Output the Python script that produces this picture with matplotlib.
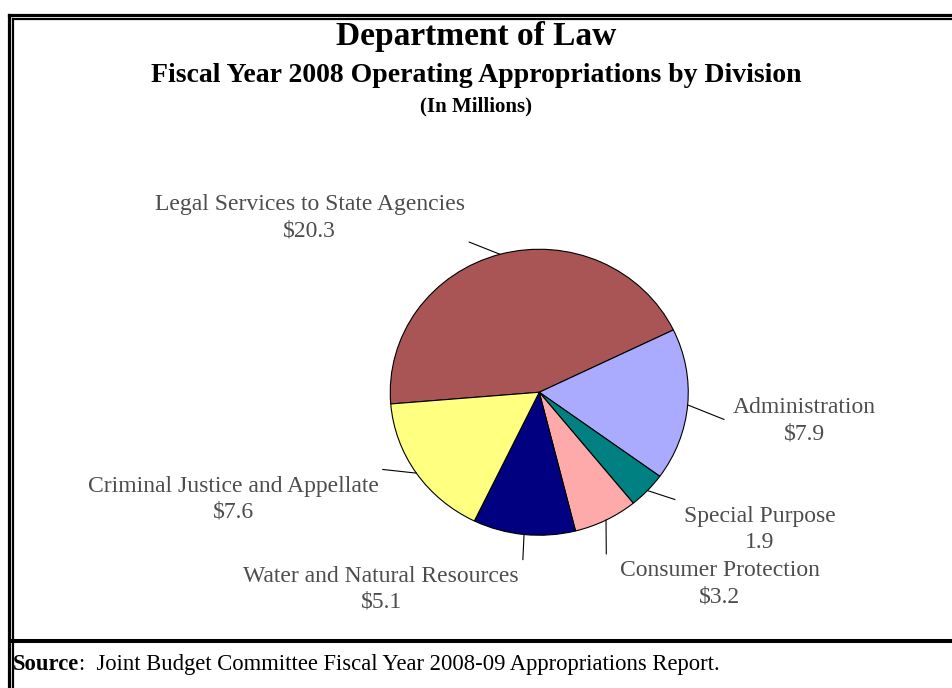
import matplotlib.pyplot as plt
from matplotlib.lines import Line2D
import numpy as np

# Department of Law, FY 2008 operating appropriations by division ($ millions)
divisions = ['Legal Services to State Agencies', 'Administration', 'Special Purpose',
             'Consumer Protection', 'Water and Natural Resources',
             'Criminal Justice and Appellate']
amounts = [20.3, 7.9, 1.9, 3.2, 5.1, 7.6]
amount_text = ['$20.3', '$7.9', '1.9', '$3.2', '$5.1', '$7.6']
colors = ['#AA5555', '#AAAAFF', '#008080', '#FFAAAA', '#000080', '#FFFF80']

# label centres and leader-line ends, in pie data units
label_pos = [(-1.54, 1.22), (1.78, -0.20), (1.48, -0.96),
             (1.21, -1.34), (-1.06, -1.38), (-2.05, -0.75)]
leader_end = [(-0.47, 1.05), (1.24, -0.19), (0.91, -0.75),
              (0.45, -1.13), (-0.11, -1.17), (-1.05, -0.54)]

W, H = 952, 688
fig = plt.figure(figsize=(W / 100, H / 100), dpi=100)

# pie axes: centre ~(539, 392) px, radius ~149 x 143 px
ax = fig.add_axes([353 / W, 1 - 571 / H, 372.5 / W, 357.5 / H])
wedges, _ = ax.pie(amounts, colors=colors, startangle=184.7, counterclock=False,
                   wedgeprops=dict(edgecolor='black', linewidth=0.8))
ax.set_aspect('auto')
ax.set_xlim(-1.25, 1.25)
ax.set_ylim(-1.25, 1.25)

for w, name, amt, (lx, ly), (ex, ey) in zip(wedges, divisions, amount_text,
                                            label_pos, leader_end):
    mid = np.deg2rad((w.theta1 + w.theta2) / 2)
    ax.plot([np.cos(mid), ex], [np.sin(mid), ey], color='black', lw=0.8,
            clip_on=False)
    ax.text(lx, ly, f'{name}\n{amt}', ha='center', va='center',
            family='Liberation Serif', fontsize=17, color='#4d4d4d',
            linespacing=1.3, clip_on=False)

# titles
fig.text(0.5, 1 - 45 / H, 'Department of Law', ha='center', va='baseline',
         family='Liberation Serif', fontweight='bold', fontsize=24)
fig.text(0.5, 1 - 82 / H, 'Fiscal Year 2008 Operating Appropriations by Division',
         ha='center', va='baseline', family='Liberation Serif',
         fontweight='bold', fontsize=20)
fig.text(0.5, 1 - 111 / H, '(In Millions)', ha='center', va='baseline',
         family='Liberation Serif', fontweight='bold', fontsize=15)

# source line: bold "Source" followed by the plain remainder
src = fig.text(13 / W, 1 - 670 / H, 'Source', ha='left', va='baseline',
               family='Liberation Serif', fontweight='bold', fontsize=16.3)
fig.add_artist(plt.Annotation(
    ':  Joint Budget Committee Fiscal Year 2008-09 Appropriations Report.',
    xy=(1, 0), xycoords=src, va='bottom', ha='left',
    family='Liberation Serif', fontsize=16.3))

# double frame plus the rule above the source line
def hline(y, x0, lw):
    fig.add_artist(Line2D([x0 / W, 1.01], [1 - y / H, 1 - y / H], color='black',
                          lw=lw, solid_capstyle='projecting'))

def vline(x, y0, lw):
    fig.add_artist(Line2D([x / W, x / W], [1 - y0 / H, -0.01], color='black',
                          lw=lw, solid_capstyle='projecting'))

hline(14.5, 8.5, 2.3)
vline(8.5, 14.5, 2.3)
hline(19, 13, 1.6)
vline(13, 19, 1.6)
hline(641, 13, 2.9)

fig.savefig('out.png', dpi=100)
